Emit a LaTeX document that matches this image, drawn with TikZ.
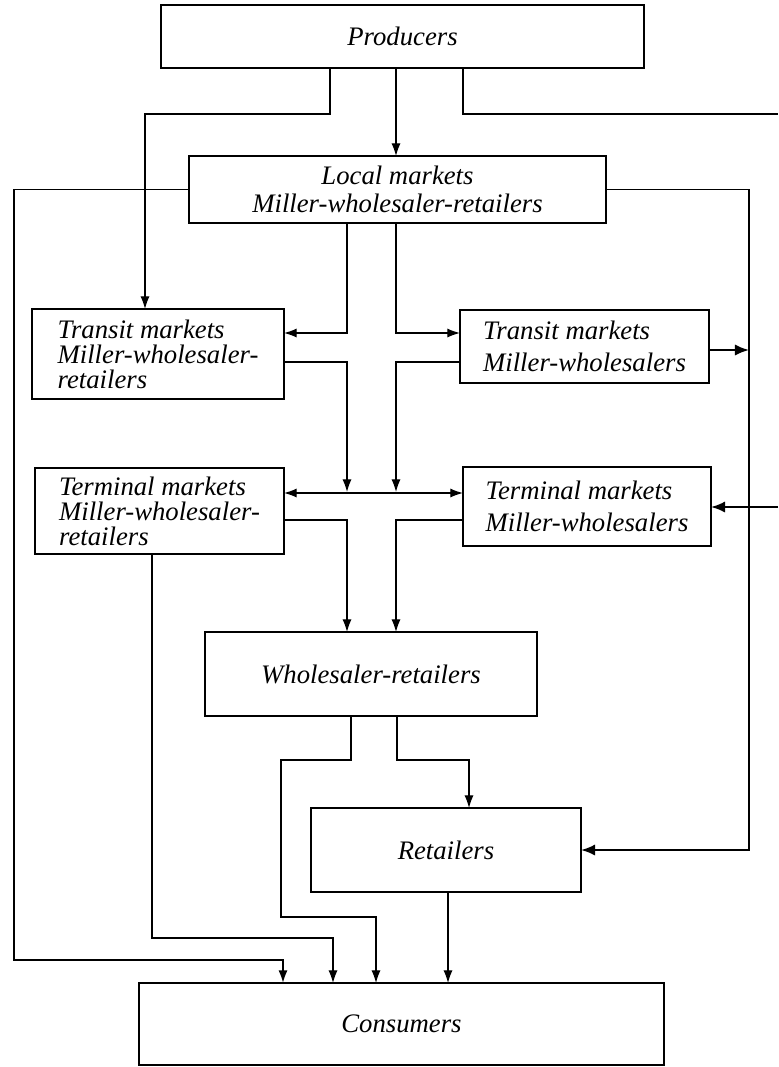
\documentclass[tikz,border=0pt]{standalone}
\usepackage{fontspec}
\setmainfont{Liberation Serif}
\usetikzlibrary{arrows.meta}
\begin{document}
\begin{tikzpicture}[x=0.025cm,y=-0.025cm,
  box/.style={draw,line width=1.6pt,inner sep=0pt,outer sep=0pt,
    font=\itshape\fontsize{19}{20}\selectfont},
  tight/.style={font=\itshape\fontsize{19}{17.8}\selectfont},
  loose/.style={font=\itshape\fontsize{19}{22.5}\selectfont},
  flow/.style={line width=0.9pt},
  arr/.style={flow,-{Latex[length=9pt,width=6.5pt]}},
  heavy/.style={line width=1.4pt},
  heavyarr/.style={heavy,-{Latex[length=10pt,width=8pt]}}]
\useasboundingbox (0,0) rectangle (778,1067);

% boxes
\node[box,minimum width=12.075cm,minimum height=1.575cm] (prod) at (402.5,36.5) {Producers};
\node[box,align=center,minimum width=10.425cm,minimum height=1.675cm] (local) at (397.5,189.5)
  {Local markets\\Miller-wholesaler-retailers};
\node[box,tight,align=left,minimum width=6.3cm,minimum height=2.25cm] (trl) at (158,354)
  {Transit markets\\Miller-wholesaler-\\retailers};
\node[box,loose,align=left,minimum width=6.225cm,minimum height=1.825cm] (trr) at (584.5,346.5)
  {Transit markets\\Miller-wholesalers};
\node[box,tight,align=left,minimum width=6.225cm,minimum height=2.15cm] (tml) at (159.5,511)
  {Terminal markets\\Miller-wholesaler-\\retailers};
\node[box,loose,align=left,minimum width=6.2cm,minimum height=1.975cm] (tmr) at (587,506.5)
  {Terminal markets\\Miller-wholesalers};
\node[box,minimum width=8.3cm,minimum height=2.1cm] (whr) at (371,674) {Wholesaler-retailers};
\node[box,minimum width=6.75cm,minimum height=2.1cm] (ret) at (446,850) {Retailers};
\node[box,minimum width=13.125cm,minimum height=2.05cm] (con) at (401.5,1024) {Consumers};

% free ends at the right margin
\coordinate (outA) at (778,114);
\coordinate (outB) at (778,507);

% from producers
\draw[arr] (prod.south -| 330,0) |- (145,114) -- (trl.north -| 145,0);
\draw[arr] (prod.south -| 396,0) -- (local.north -| 396,0);
\draw[flow] (prod.south -| 463,0) |- (outA);

% from local markets
\draw[heavy,-{Latex[length=9pt,width=6.5pt]}] (local.west) -| (14,960) -| (con.north -| 283,0);
\draw[heavyarr] (local.east) -| (749,850) -- (ret.east);
\draw[arr] (local.south -| 347,0) |- (trl.east |- 0,333);
\draw[arr] (local.south -| 396,0) |- (trr.west |- 0,333);

% from transit markets
\draw[heavyarr] (trr.east |- 0,350) -- (749,350);
\draw[arr] (trl.east |- 0,362) -| (347,492);
\draw[arr] (trr.west |- 0,362) -| (396,492);
\draw[flow,{Latex[length=9pt,width=6.5pt]}-{Latex[length=9pt,width=6.5pt]}]
  (tml.east |- 0,493) -- (tmr.west |- 0,493);
\draw[heavyarr] (outB) -- (tmr.east |- 0,507);

% from terminal markets
\draw[arr] (tml.east |- 0,520) -| (whr.north -| 347,0);
\draw[arr] (tmr.west |- 0,520) -| (whr.north -| 396,0);
\draw[arr] (tml.south -| 152,0) |- (333,938) -- (con.north -| 333,0);

% from wholesaler-retailers and retailers
\draw[arr] (whr.south -| 351,0) |- (281,760) |- (376,917) -- (con.north -| 376,0);
\draw[arr] (whr.south -| 397,0) |- (469,760) -- (ret.north -| 469,0);
\draw[arr] (ret.south -| 448,0) -- (con.north -| 448,0);
\end{tikzpicture}
\end{document}
